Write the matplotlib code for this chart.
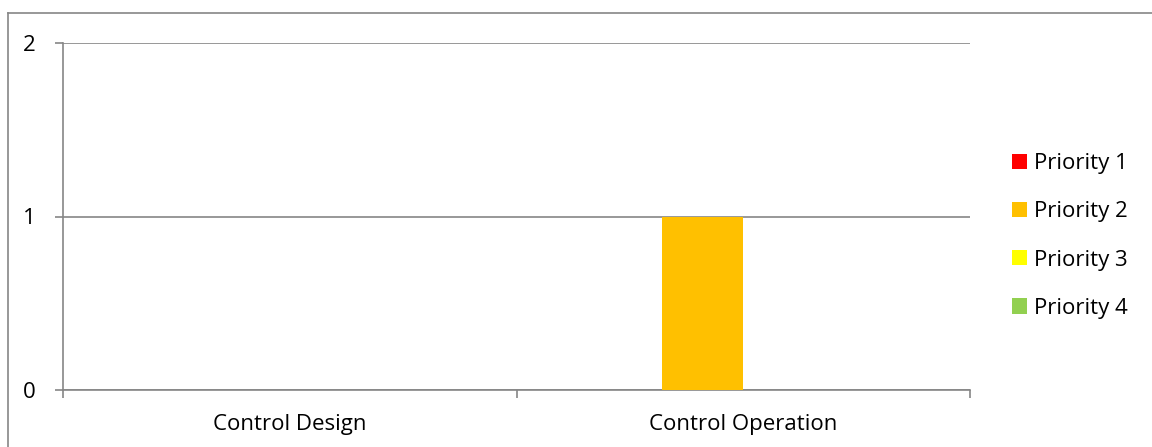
import matplotlib
matplotlib.use("Agg")
import matplotlib.pyplot as plt
from matplotlib.lines import Line2D
import numpy as np

categories = ["Control Design", "Control Operation"]
series = ["Priority 1", "Priority 2", "Priority 3", "Priority 4"]
values = {
    "Priority 1": [0, 0],
    "Priority 2": [0, 1],
    "Priority 3": [0, 0],
    "Priority 4": [0, 0],
}
colors = ["#FF0000", "#FFC000", "#FFFF00", "#92D050"]
yticks = [0, 1, 2]

plt.rcParams['font.family'] = ['Open Sans', 'DejaVu Sans']
FS = 16
W, H = 1152, 447
fig = plt.figure(figsize=(W / 100, H / 100), dpi=100)
ax = fig.add_axes([63 / W, 57 / H, (970 - 63) / W, (390 - 43) / H])

grid_c = "#868686"
x = np.arange(len(categories))
bw = 0.18
for i, s in enumerate(series):
    ax.bar(x + (i - 1.5) * bw, values[s], width=bw, color=colors[i], label=s, zorder=3)

ax.set_xlim(-0.5, len(categories) - 0.5)
ax.set_ylim(0, 2)
ax.set_yticks(yticks)
ax.set_yticklabels([str(v) for v in yticks])
ax.set_xticks(x)
ax.set_xticklabels(categories)
ax.set_xticks(np.arange(-0.5, len(categories), 1.0), minor=True)
ax.tick_params(axis='x', which='major', length=0, pad=17, labelsize=FS)
ax.tick_params(axis='x', which='minor', length=6, width=1.2, color=grid_c, direction='out')
ax.tick_params(axis='y', length=6, width=1.2, color=grid_c, direction='out', pad=14, labelsize=FS)

for sp in ['top', 'right']:
    ax.spines[sp].set_visible(False)
for sp in ['left', 'bottom']:
    ax.spines[sp].set_color(grid_c)
    ax.spines[sp].set_linewidth(1.2)
ax.yaxis.grid(True, color=grid_c, linewidth=1.2, zorder=1)
ax.set_axisbelow(True)

leg = fig.legend(loc='center left', bbox_to_anchor=(1012 / W, 211 / H),
                 bbox_transform=fig.transFigure, frameon=False, fontsize=FS,
                 handlelength=0.68, handleheight=0.68, handletextpad=0.3,
                 labelspacing=1.22, borderaxespad=0.0, borderpad=0.0)

fig.add_artist(Line2D([8 / W, 8 / W], [0, 1 - 13 / H], transform=fig.transFigure,
                      color=grid_c, linewidth=1.2))
fig.add_artist(Line2D([8 / W, 1], [1 - 13 / H, 1 - 13 / H], transform=fig.transFigure,
                      color=grid_c, linewidth=1.2))

fig.savefig("out.png", dpi=100)
